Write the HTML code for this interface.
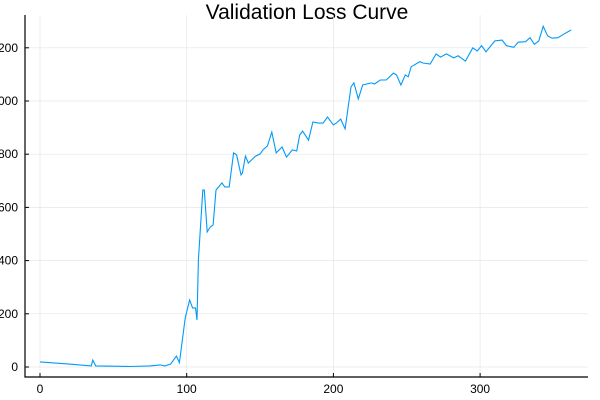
<!DOCTYPE html>
<html><head><meta charset="utf-8"><style>
html,body{margin:0;padding:0;background:#fff;}
svg{display:block;font-family:"Liberation Sans","DejaVu Sans",sans-serif;}
</style></head><body>
<svg id="chart" width="600" height="400">
<text x="307" y="19" text-anchor="middle" font-size="21" fill="#000">Validation Loss Curve</text>
<g id="grid"></g>
<g id="axes"></g>
<path id="line" fill="none" stroke="#009af9" stroke-width="1.1"/>
</svg>
<script>
const xTicks = [0, 100, 200, 300];
const yTicks = [0, 200, 400, 600, 800, 1000, 1200];
const yTickLabels = ["0", "200", "400", "600", "800", "1000", "1200"];
const epochs = [0,20,35,36,38,61,75,82,85,89,93,95,99,102,104,106,107,108,111,112,114,116,118,120,124,126,129,132,134,137,138,140,142,147,150,152,155,158,161,165,168,172,175,177,179,183,186,190,193,196,200,202,205,208,212,214,217,220,226,228,232,236,241,243,246,249,251,253,259,261,266,270,273,277,282,285,290,295,298,301,304,310,315,318,323,326,331,334,337,340,343,346,349,353,357,362];
const loss = [19,11,4,26,4,2,4,8,4,11,41,16,184,252,222,222,177,402,665,665,508,526,534,665,692,677,677,805,797,722,729,793,767,793,801,816,831,883,805,827,789,816,812,872,887,853,921,917,917,940,910,917,932,895,1053,1068,1008,1060,1068,1064,1079,1079,1105,1098,1060,1098,1091,1129,1148,1143,1139,1177,1165,1177,1162,1170,1150,1200,1188,1208,1185,1226,1229,1208,1202,1221,1223,1238,1213,1226,1281,1245,1236,1238,1251,1267];

const L=25,R=588,T=15,B=377;
const xs = v => 40 + v*1.467;
const ys = v => 367 - v*0.266;
const NS="http://www.w3.org/2000/svg";
const grid=document.getElementById('grid'), axes=document.getElementById('axes');
function mk(tag,attrs,parent){const e=document.createElementNS(NS,tag);for(const k in attrs)e.setAttribute(k,attrs[k]);parent.appendChild(e);return e;}
xTicks.forEach(t=>{
  const g=mk('line',{x1:xs(t),x2:xs(t),y1:T,y2:B,stroke:'#e6e6e6','stroke-width':0.7},grid);
  
  
  const tk=mk('line',{x1:xs(t),x2:xs(t),y1:B,y2:B-4,stroke:'#000','stroke-width':1},axes);
  
  
  const tx=mk('text',{x:xs(t),y:393,'text-anchor':'middle','font-size':12,fill:'#000'},axes);
  tx.textContent=t;
  
  
});
yTicks.forEach((t,i)=>{
  const g=mk('line',{x1:L,x2:R,y1:ys(t),y2:ys(t),stroke:'#e6e6e6','stroke-width':0.7},grid);
  
  
  const tk=mk('line',{x1:L,x2:L+4,y1:ys(t),y2:ys(t),stroke:'#000','stroke-width':1},axes);
  
  
  const tx=mk('text',{x:18,y:ys(t)+4,'text-anchor':'end','font-size':12,fill:'#000'},axes);
  tx.textContent=yTickLabels[i];
  
  
});
const ax=mk('path',{d:`M${L},${T}V${B}H${R}`,fill:'none',stroke:'#000','stroke-width':1.2},axes);


document.getElementById('line').setAttribute('d',epochs.map((e,i)=>(i?'L':'M')+xs(e).toFixed(1)+','+ys(loss[i]).toFixed(1)).join(''));
</script>
</body></html>
